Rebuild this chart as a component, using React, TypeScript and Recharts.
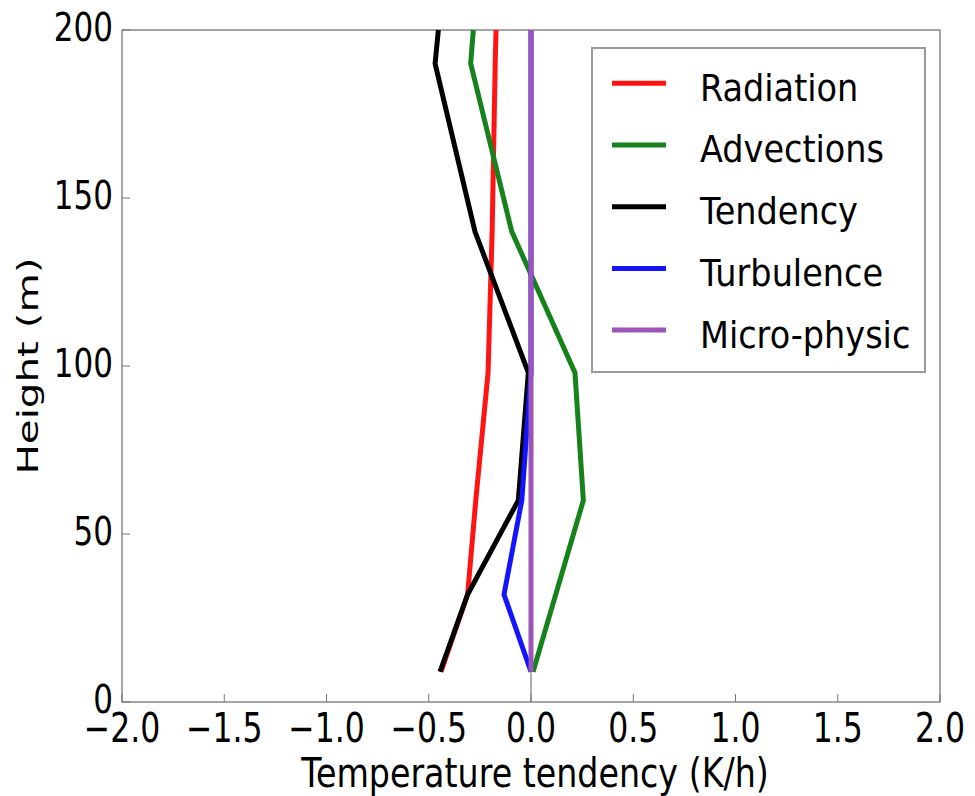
import React from 'react';
import { LineChart, Line, XAxis, YAxis, ReferenceArea, ReferenceLine } from 'recharts';

const heights = [9, 32, 60, 98, 140, 190, 200];
const radiation = [-0.44, -0.31, -0.27, -0.21, -0.19, -0.175, -0.171];
const advections: (number | null)[] = [0.01, null, 0.256, 0.215, -0.094, -0.295, -0.282];
const tendency = [-0.445, -0.31, -0.062, -0.013, -0.274, -0.469, -0.453];
const turbulence = [0, -0.132, -0.045, 0, 0, 0, 0];
const microphysic = [0, 0, 0, 0, 0, 0, 0];

const xTicks = [-2, -1.5, -1, -0.5, 0, 0.5, 1, 1.5, 2];
const yTicks = [0, 50, 100, 150, 200];

const series = [
  { key: 'radiation', name: 'Radiation', color: '#ff1414' },
  { key: 'advections', name: 'Advections', color: '#16821c' },
  { key: 'tendency', name: 'Tendency', color: '#000000' },
  { key: 'turbulence', name: 'Turbulence', color: '#1414ff' },
  { key: 'microphysic', name: 'Micro-physic', color: '#9b55b8' },
];

const data = heights.map((h, i) => ({
  h,
  radiation: radiation[i],
  advections: advections[i],
  tendency: tendency[i],
  turbulence: turbulence[i],
  microphysic: microphysic[i],
}));

const FONT = '"DejaVu Sans", sans-serif';
const STRETCH = 1.27;
const fmtX = (v: number) => (v < 0 ? '\u2212' + Math.abs(v).toFixed(1) : v.toFixed(1));

const XTick = (props: any) => {
  const { x, y, payload } = props;
  return (
    <g transform={`translate(${x},${y + 30}) scale(1,${STRETCH})`}>
      <text x={0} y={0} textAnchor="middle" fontSize={31.5} fontFamily={FONT} fill="#000">
        {fmtX(payload.value)}
      </text>
    </g>
  );
};

const YTick = (props: any) => {
  const { x, y, payload } = props;
  return (
    <g transform={`translate(${x},${y + 11}) scale(1,${STRETCH})`}>
      <text x={0} y={0} textAnchor="end" fontSize={31} fontFamily={FONT} fill="#000">
        {String(payload.value)}
      </text>
    </g>
  );
};

const LegendBox = () => (
  <svg
    width={340}
    height={330}
    style={{ position: 'absolute', left: 590, top: 46, overflow: 'visible' }}
  >
    <rect x={2} y={2} width={333} height={324} fill="#fff" stroke="#9a9a9a" strokeWidth={2} />
    {series.map((p, i) => {
      const cy = 37.3 + i * 61.7;
      return (
        <g key={p.key}>
          <line x1={22} x2={76} y1={cy} y2={cy} stroke={p.color} strokeWidth={5} />
          <g transform={`translate(110,${cy + 17.4}) scale(1,1.13)`}>
            <text x={0} y={0} fontSize={33.5} fontFamily={FONT} fill="#000">
              {p.name}
            </text>
          </g>
        </g>
      );
    })}
  </svg>
);

export default function App() {
  return (
    <div style={{ position: 'absolute', left: 0, top: 0, width: 975, height: 796, background: '#fff' }}>
      <LineChart
        width={975}
        height={796}
        data={data}
        layout="vertical"
        margin={{ top: 30, right: 35, left: 0, bottom: 0 }}
      >
        <XAxis
          type="number"
          domain={[-2, 2]}
          ticks={xTicks}
          allowDataOverflow
          height={94}
          axisLine={false}
          tickSize={-8}
          tickMargin={18}
          tickLine={{ stroke: '#777' }}
          tick={<XTick />}
          interval={0}
          label={{
            content: () => (
              <g transform={`translate(535,787) scale(1,1.25)`}>
                <text x={0} y={0} textAnchor="middle" fontSize={33.3} fontFamily={FONT} fill="#000">
                  Temperature tendency (K/h)
                </text>
              </g>
            ),
          }}
        />
        <XAxis
          xAxisId="top"
          orientation="top"
          type="number"
          domain={[-2, 2]}
          ticks={xTicks}
          height={0}
          axisLine={false}
          tickSize={-8}
          tickLine={{ stroke: '#777' }}
          tickFormatter={() => ''}
          interval={0}
        />
        <YAxis
          type="number"
          dataKey="h"
          domain={[0, 200]}
          ticks={yTicks}
          reversed
          width={122}
          axisLine={false}
          tickSize={-8}
          tickMargin={17}
          tickLine={{ stroke: '#777' }}
          tick={<YTick />}
          interval={0}
          label={{
            content: () => (
              <text
                x={0}
                y={0}
                textAnchor="middle"
                transform="translate(38,366) rotate(-90)"
                fontSize={29}
                textLength={217}
                lengthAdjust="spacingAndGlyphs"
                fontFamily={FONT}
                fill="#000"
              >
                Height (m)
              </text>
            ),
          }}
        />
        <YAxis
          yAxisId="right"
          orientation="right"
          type="number"
          domain={[0, 200]}
          ticks={yTicks}
          reversed
          width={0}
          axisLine={false}
          tickSize={-8}
          tickLine={{ stroke: '#777' }}
          tickFormatter={() => ''}
          interval={0}
        />
        <ReferenceArea x1={-2} x2={2} y1={0} y2={200} fill="none" stroke="#888" strokeWidth={1.5} ifOverflow="extendDomain" />
        <ReferenceLine x={0} stroke="#777" strokeWidth={1.2} />
        {series.map((s) => (
          <Line
            key={s.key}
            dataKey={s.key}
            name={s.name}
            stroke={s.color}
            strokeWidth={5}
            dot={false}
            connectNulls
            isAnimationActive={false}
          />
        ))}
      </LineChart>
      <LegendBox />
    </div>
  );
}
